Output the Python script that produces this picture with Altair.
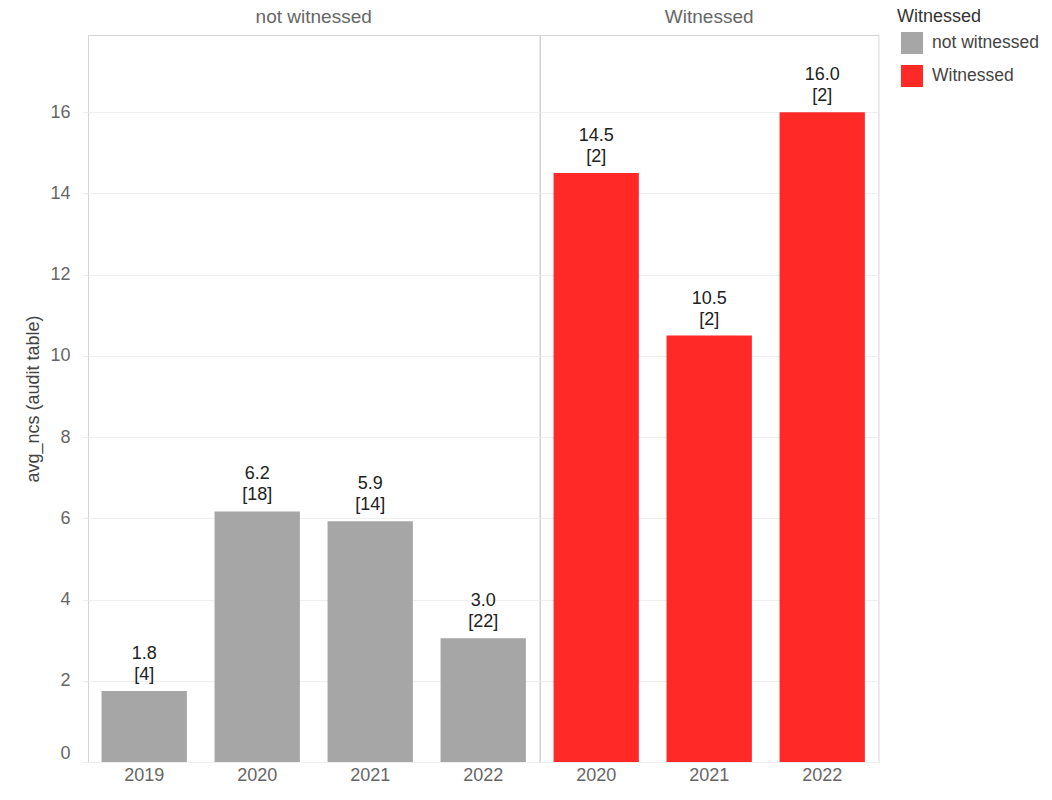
import altair as alt
import pandas as pd

groups = ["not witnessed", "not witnessed", "not witnessed", "not witnessed",
          "Witnessed", "Witnessed", "Witnessed"]
years = ["2019", "2020", "2021", "2022", "2020", "2021", "2022"]
avg_ncs = [1.75, 6.17, 5.93, 3.05, 14.5, 10.5, 16.0]
counts = [4, 18, 14, 22, 2, 2, 2]

group_order = ["not witnessed", "Witnessed"]
group_colors = ["#a6a6a6", "#ff2a27"]

df = pd.DataFrame({
    "Witnessed": groups,
    "year": years,
    "avg_ncs": avg_ncs,
    "n": counts,
})
df["label"] = [f"{v:.1f}\n[{c}]" for v, c in zip(avg_ncs, counts)]

FONT = "Liberation Sans"
LINE = "#d4d4d4"
H = 727

base = alt.Chart().encode(
    x=alt.X("year:N", title=None,
            scale=alt.Scale(paddingInner=0.245, paddingOuter=0.12),
            axis=alt.Axis(labelAngle=0, ticks=False, domain=False,
                          labelFontSize=18, labelColor="#666666",
                          labelPadding=4, labelFont=FONT)),
    y=alt.Y("avg_ncs:Q", title="avg_ncs (audit table)",
            scale=alt.Scale(domain=[0, 17.9], nice=False),
            axis=alt.Axis(values=[0, 2, 4, 6, 8, 10, 12, 14, 16],
                          domain=False, ticks=True, tickSize=6, tickColor="#eeeeee",
                          gridColor="#eeeeee", labelFontSize=18,
                          labelColor="#666666", labelPadding=12,
                          labelFlush=True,
                          labelFont=FONT, titleFont=FONT, titleFontSize=18,
                          titleFontWeight="normal", titleColor="#444444",
                          titlePadding=7)),
)

bars = base.mark_bar().encode(
    color=alt.Color("Witnessed:N",
                    scale=alt.Scale(domain=group_order, range=group_colors),
                    legend=alt.Legend(title="Witnessed", symbolType="square",
                                      orient="none", legendX=809, legendY=-27,
                                      symbolSize=484, symbolStrokeWidth=0,
                                      symbolOffset=4,
                                      titleFontSize=18, titleFontWeight="normal",
                                      titleColor="#333333", titleFont=FONT,
                                      labelFont=FONT, labelFontSize=17.5,
                                      labelColor="#444444",
                                      rowPadding=11, titlePadding=6,
                                      labelOffset=9))
)

labels = base.mark_text(baseline="bottom", dy=-28, lineBreak="\n",
                        fontSize=18, color="#222222", font=FONT,
                        lineHeight=21).encode(text="label:N")

chart = alt.layer(bars, labels, data=df).properties(
    width=alt.Step(113), height=H
).facet(
    column=alt.Column("Witnessed:N", sort=group_order, title=None,
                      header=alt.Header(labelOrient="top", labelFontSize=19,
                                        labelColor="#666666", labelFont=FONT,
                                        labelPadding=8)),
    spacing=0,
    bounds="flush"
).resolve_scale(x="independent").configure_view(
    stroke=LINE
).properties(padding={"left": 16, "top": 0, "right": 0, "bottom": 0})

chart.save("out.html", embed_options={"renderer": "svg", "actions": False})
